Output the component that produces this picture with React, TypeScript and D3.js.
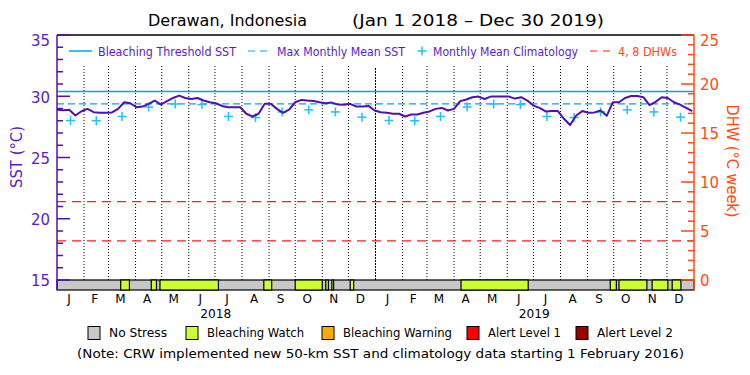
import React from "react";
import * as d3 from "d3";

// ---------- DATA ----------
const seriesStart = "2018-01-01";
const stepDays = 7;
// SST (°C), one value every 7 days from Jan 1 2018 to Dec 30 2019
const sstValues = [
  28.89, 28.85, 28.9, 28.43, 28.78, 28.97, 28.7, 28.65, 28.65, 28.68, 28.97, 29.51, 29.43, 29.1, 29.16,
  29.38, 29.65, 29.32, 29.6, 29.86, 30.05, 29.86, 29.78, 29.86, 29.65, 29.51, 29.43, 29.21, 29.1, 29.1,
  29.1, 28.57, 28.35, 28.57, 29.38, 29.38, 28.97, 28.65, 28.9, 29.51, 29.7, 29.65, 29.62, 29.51, 29.43,
  29.48, 29.32, 29.3, 29.38, 29.16, 29.16, 29.21, 28.84, 28.7, 28.65, 28.57, 28.57, 28.35, 28.51, 28.51,
  28.65, 28.76, 28.97, 29.05, 28.84, 28.97, 29.6, 29.73, 29.92, 29.97, 29.78, 29.97, 29.97, 29.97, 29.97,
  29.81, 29.92, 29.65, 29.24, 29.05, 28.76, 28.79, 28.79, 28.16, 27.65, 28.43, 28.79, 28.65, 28.68, 28.84,
  28.4, 29.51, 29.51, 29.86, 30.02, 30.02, 29.92, 29.27, 29.54, 29.92, 29.86, 29.51, 29.32, 29.05, 28.79,
];
// Monthly mean climatology (Jan..Dec), shown mid-month for both years
const climatology = [28.02, 28.0, 28.35, 29.12, 29.37, 29.32, 28.35, 28.26, 28.72, 28.89, 28.72, 28.29];
const climYears = [2018, 2019];
const mmm = 29.38;
const bleachingThreshold = 30.38;
const dhwLevels = [4, 8];
// Bleaching Watch periods in the status bar (rest is No Stress)
const watchStart = [
  "2018-03-15", "2018-04-19", "2018-04-29", "2018-08-26", "2018-10-01", "2018-11-05", "2018-11-12",
  "2018-12-03", "2019-04-09", "2019-09-27", "2019-10-07", "2019-11-14", "2019-12-07",
];
const watchEnd = [
  "2018-03-25", "2018-04-25", "2018-07-05", "2018-09-04", "2018-11-01", "2018-11-08", "2018-11-14",
  "2018-12-07", "2019-06-25", "2019-10-04", "2019-11-08", "2019-12-02", "2019-12-17",
];
const monthLetters = ["J", "F", "M", "A", "M", "J", "J", "A", "S", "O", "N", "D"];
const yearLabels = ["2018", "2019"];
const sstTicks = [15, 20, 25, 30, 35];
const dhwTicks = [0, 5, 10, 15, 20, 25];
const statusNames = ["No Stress", "Bleaching Watch", "Bleaching Warning", "Alert Level 1", "Alert Level 2"];
const statusColors = ["#c8c8c8", "#ccff33", "#ffaa00", "#ff0000", "#990000"];

// ---------- STYLE ----------
const FONT = "DejaVu Sans, sans-serif";
const PURPLE_TXT = "#5a1cc8";
const SST_LINE = "#5010b4";
const BLUE = "#0aa0f5";
const CYAN = "#1ec3f5";
const RED = "#ff1e1e";
const ORANGE = "#ff4a14";

const L = 57, R = 694, T = 35, B15 = 280, BAR_B = 290;

const parse = (s: string) => {
  const [y, m, d] = s.split("-").map(Number);
  return new Date(Date.UTC(y, m - 1, d));
};

export default function App() {
  const x = d3.scaleUtc().domain([parse("2018-01-01"), parse("2020-01-01")]).range([L, R]);
  const y = d3.scaleLinear().domain([15, 35]).range([B15, T]);
  const yD = d3.scaleLinear().domain([0, 25]).range([B15, T]);

  const start = parse(seriesStart);
  const sstData = sstValues.map((v, i) => ({ d: d3.utcDay.offset(start, i * stepDays), v }));
  const line = d3
    .line<{ d: Date; v: number }>()
    .x((p) => x(p.d))
    .y((p) => y(p.v));

  const monthStarts = d3.utcMonth.range(parse("2018-02-01"), parse("2020-01-01"));
  const monthsAll = d3.utcMonth.range(parse("2018-01-01"), parse("2020-01-01"));
  const midMonth = (m: Date) => new Date((m.getTime() + d3.utcMonth.offset(m, 1).getTime()) / 2);

  const climPts = climYears.flatMap((yr) =>
    climatology.map((v, mi) => ({ d: midMonth(new Date(Date.UTC(yr, mi, 1))), v }))
  );

  const sstMinor = d3.range(15, 36, 1);
  const dhwMinor = d3.range(0, 26, 1);

  const legendY = 51;
  const statusY = 333;

  return (
    <svg width={750} height={375} style={{ position: "absolute", left: 0, top: 0, background: "#fff" }} fontFamily={FONT}>
      <rect x={0} y={0} width={750} height={375} fill="#fff" />
      {/* Title */}
      <text x={148} y={20} dy="0.35em" fontSize={16} textLength={159} lengthAdjust="spacingAndGlyphs" fill="#000">
        Derawan, Indonesia
      </text>
      <text x={352} y={20} dy="0.35em" fontSize={16} textLength={252} lengthAdjust="spacingAndGlyphs" fill="#000">
        (Jan 1 2018 – Dec 30 2019)
      </text>

      {/* month dotted lines */}
      {monthStarts.map((m, i) => {
        const isYear = m.getUTCMonth() === 0;
        return (
          <line
            key={"ml" + i}
            x1={x(m)}
            x2={x(m)}
            y1={isYear ? 68 : 66}
            y2={B15}
            stroke="#000"
            strokeWidth={1}
            strokeDasharray={isYear ? "2,1" : "1,2"}
          />
        );
      })}

      {/* DHW dashed lines */}
      {dhwLevels.map((d) => (
        <line key={"dhw" + d} x1={L} x2={R} y1={yD(d)} y2={yD(d)} stroke={RED} strokeWidth={1.2} strokeDasharray="9,6" />
      ))}

      {/* threshold & MMM */}
      <line x1={L} x2={R} y1={y(bleachingThreshold)} y2={y(bleachingThreshold)} stroke={BLUE} strokeWidth={1.5} />
      <line x1={L} x2={R} y1={y(mmm)} y2={y(mmm)} stroke={BLUE} strokeWidth={1.2} strokeDasharray="7,4" />

      {/* climatology crosses */}
      {climPts.map((p, i) => (
        <g key={"c" + i} stroke={CYAN} strokeWidth={1.5}>
          <line x1={x(p.d) - 4.5} x2={x(p.d) + 4.5} y1={y(p.v)} y2={y(p.v)} />
          <line x1={x(p.d)} x2={x(p.d)} y1={y(p.v) - 4.5} y2={y(p.v) + 4.5} />
        </g>
      ))}

      {/* SST line */}
      <path d={line(sstData) || ""} fill="none" stroke={SST_LINE} strokeWidth={2} strokeLinejoin="round" />

      {/* status bar */}
      <rect x={L} y={B15} width={R - L} height={BAR_B - B15} fill={statusColors[0]} stroke="#000" strokeWidth={1.2} />
      {watchStart.map((s, i) => (
        <rect
          key={"w" + i}
          x={x(parse(s))}
          y={B15}
          width={x(parse(watchEnd[i])) - x(parse(s))}
          height={BAR_B - B15}
          fill={statusColors[1]}
          stroke="#000"
          strokeWidth={1.2}
        />
      ))}

      {/* frame */}
      <line x1={L} x2={R} y1={T} y2={T} stroke="#000" strokeWidth={1.5} />
      <line x1={L} x2={L} y1={T} y2={BAR_B} stroke={SST_LINE} strokeWidth={1.5} />
      <line x1={R} x2={R} y1={T} y2={BAR_B} stroke={ORANGE} strokeWidth={1.5} />

      {/* left ticks */}
      {sstMinor.map((t) => (
        <line key={"lt" + t} x1={L} x2={L + (t % 5 === 0 ? 13 : 6)} y1={y(t)} y2={y(t)} stroke={SST_LINE} strokeWidth={1.5} />
      ))}
      {sstTicks.map((t) => (
        <text
          key={"ll" + t}
          x={50}
          y={Math.max(y(t) + 1, 41)}
          dy="0.35em"
          textAnchor="end"
          fontSize={15}
          textLength={19}
          lengthAdjust="spacingAndGlyphs"
          fill={PURPLE_TXT}
        >
          {t}
        </text>
      ))}
      <text
        transform="translate(17,157) rotate(-90)"
        textAnchor="middle"
        dy="0.35em"
        fontSize={15}
        textLength={62}
        lengthAdjust="spacingAndGlyphs"
        fill={PURPLE_TXT}
      >
        SST (°C)
      </text>

      {/* right ticks */}
      {dhwMinor.map((t) => (
        <line key={"rt" + t} x1={R - (t % 5 === 0 ? 13 : 6)} x2={R} y1={yD(t)} y2={yD(t)} stroke={ORANGE} strokeWidth={1.5} />
      ))}
      {dhwTicks.map((t) => (
        <text
          key={"rl" + t}
          x={700}
          y={Math.max(yD(t) + 1, 41)}
          dy="0.35em"
          fontSize={15}
          textLength={t < 10 ? 9.5 : 19}
          lengthAdjust="spacingAndGlyphs"
          fill={ORANGE}
        >
          {t}
        </text>
      ))}
      <text
        transform="translate(732,161) rotate(90)"
        textAnchor="middle"
        dy="0.35em"
        fontSize={15}
        textLength={113}
        lengthAdjust="spacingAndGlyphs"
        fill={ORANGE}
      >
        DHW (°C week)
      </text>

      {/* top legend */}
      <line x1={69} x2={92} y1={legendY} y2={legendY} stroke={BLUE} strokeWidth={1.5} />
      <text x={98} y={legendY} dy="0.35em" fontSize={13} textLength={138} lengthAdjust="spacingAndGlyphs" fill={PURPLE_TXT}>
        Bleaching Threshold SST
      </text>
      <line x1={248} x2={270} y1={legendY} y2={legendY} stroke={BLUE} strokeWidth={1.2} strokeDasharray="7,5" />
      <text x={277} y={legendY} dy="0.35em" fontSize={13} textLength={128} lengthAdjust="spacingAndGlyphs" fill={PURPLE_TXT}>
        Max Monthly Mean SST
      </text>
      <g stroke={CYAN} strokeWidth={1.5}>
        <line x1={417.5} x2={426.5} y1={legendY} y2={legendY} />
        <line x1={422} x2={422} y1={legendY - 4.5} y2={legendY + 4.5} />
      </g>
      <text x={433} y={legendY} dy="0.35em" fontSize={13} textLength={145} lengthAdjust="spacingAndGlyphs" fill={PURPLE_TXT}>
        Monthly Mean Climatology
      </text>
      <line x1={590} x2={611} y1={legendY} y2={legendY} stroke={RED} strokeWidth={1.2} strokeDasharray="7,6" />
      <text x={618} y={legendY} dy="0.35em" fontSize={13} textLength={59} lengthAdjust="spacingAndGlyphs" fill={ORANGE}>
        4, 8 DHWs
      </text>

      {/* month labels */}
      {monthsAll.map((m, i) => (
        <text key={"mo" + i} x={x(midMonth(m)) - 1.5} y={299} dy="0.35em" textAnchor="middle" fontSize={12} fill="#000">
          {monthLetters[m.getUTCMonth()]}
        </text>
      ))}
      {yearLabels.map((yl) => (
        <text
          key={"yr" + yl}
          x={x(parse(yl + "-07-02"))}
          y={314}
          dy="0.35em"
          textAnchor="middle"
          fontSize={12}
          textLength={31}
          lengthAdjust="spacingAndGlyphs"
          fill="#000"
        >
          {yl}
        </text>
      ))}

      {/* status legend */}
      {statusNames.map((n, i) => {
        const bx = [88, 186, 322, 467, 576][i];
        const tl = [58, 97, 109, 73, 76][i];
        return (
          <g key={"sl" + i}>
            <rect x={bx} y={statusY - 6.5} width={12} height={13} fill={statusColors[i]} stroke="#000" strokeWidth={1} />
            <text x={bx + 21} y={statusY} dy="0.35em" fontSize={12} textLength={tl} lengthAdjust="spacingAndGlyphs" fill="#000">
              {n}
            </text>
          </g>
        );
      })}
      <text x={77} y={354} dy="0.35em" fontSize={12} textLength={607} lengthAdjust="spacingAndGlyphs" fill="#000">
        (Note: CRW implemented new 50-km SST and climatology data starting 1 February 2016)
      </text>
    </svg>
  );
}
